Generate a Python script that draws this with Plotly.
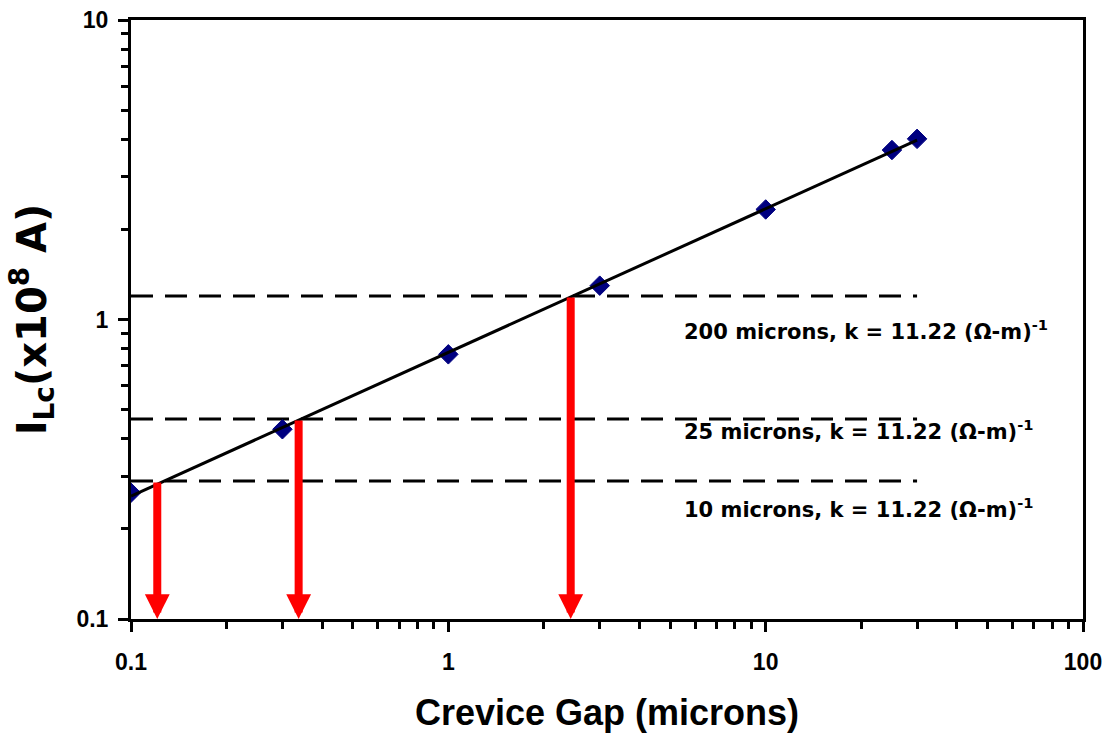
import numpy as np
import plotly.graph_objects as go

# Measured limiting current vs crevice gap
crevice_gap = [0.1, 0.3, 1, 3, 10, 25, 30]          # microns
i_lc = [0.264, 0.43, 0.765, 1.297, 2.33, 3.68, 4.01]  # x10^8 A

level_values = [1.197, 0.465, 0.289]
arrow_gaps = [2.43, 0.3375, 0.121]
level_labels = [
    "200 microns, k = 11.22 (Ω-m)<sup>-1</sup>",
    "25 microns, k = 11.22 (Ω-m)<sup>-1</sup>",
    "10 microns, k = 11.22 (Ω-m)<sup>-1</sup>",
]
label_x = [5.45, 5.45, 5.45]
label_y = [0.92, 0.428, 0.235]

x_ticks = [0.1, 1, 10, 100]
x_tick_text = ["0.1", "1", "10", "100"]
y_ticks = [0.1, 1, 10]
y_tick_text = ["0.1", "1", "10"]

x_minor = [d * 10.0 ** e for e in (-1, 0, 1) for d in range(2, 10)]
y_minor = [d * 10.0 ** e for e in (-1, 0) for d in range(2, 10)]

# Power-law trend line fitted in log-log space
b, log_a = np.polyfit(np.log10(crevice_gap), np.log10(i_lc), 1)
fit_x = np.array([min(crevice_gap), max(crevice_gap)])
fit_y = 10 ** log_a * fit_x ** b

fig = go.Figure()

for lv in level_values:
    fig.add_trace(go.Scatter(
        x=[min(crevice_gap), max(crevice_gap)], y=[lv, lv], mode="lines",
        line=dict(color="black", width=3, dash="22px,12px"), hoverinfo="skip"))

fig.add_trace(go.Scatter(
    x=crevice_gap, y=i_lc, mode="markers",
    marker=dict(symbol="diamond", size=15, color="#000080",
                line=dict(color="#000080", width=1))))

fig.add_trace(go.Scatter(
    x=fit_x, y=fit_y, mode="lines", line=dict(color="black", width=3)))

annotations = []
for gx, lv in zip(arrow_gaps, level_values):
    annotations.append(dict(
        x=np.log10(gx), y=np.log10(min(y_ticks)), xref="x", yref="y",
        ax=np.log10(gx), ay=np.log10(lv), axref="x", ayref="y",
        text="", showarrow=True, arrowhead=2, arrowsize=0.62,
        arrowwidth=8, arrowcolor="#FF0000", standoff=0, startstandoff=0))

for lx, ly, txt in zip(label_x, label_y, level_labels):
    annotations.append(dict(
        x=np.log10(lx), y=np.log10(ly), xref="x", yref="y", text=txt,
        showarrow=False, xanchor="left", yanchor="middle",
        font=dict(family="DejaVu Sans", size=21, color="black", weight="bold")))

fig.update_layout(
    template="none",
    width=1110, height=738,
    margin=dict(l=131, r=27, t=20, b=119),
    plot_bgcolor="white", paper_bgcolor="white",
    font=dict(family="Liberation Sans", size=23, color="black", weight="bold"),
    showlegend=False,
    annotations=annotations,
)

tick_font = dict(family="Liberation Sans", size=23, color="black", weight="bold")

fig.update_xaxes(
    type="log", range=[-1, 2], showgrid=False, zeroline=False, automargin=False,
    showline=True, linecolor="black", linewidth=3, mirror=True,
    ticks="outside", ticklen=10, tickwidth=3, tickcolor="black",
    tickmode="array", tickvals=x_ticks, ticktext=x_tick_text,
    tickfont=tick_font, ticklabelstandoff=10,
    minor=dict(ticks="outside", ticklen=7, tickwidth=3, tickcolor="black",
               tickmode="array", tickvals=x_minor, showgrid=False),
    title=dict(text="Crevice Gap (microns)",
               font=dict(family="Liberation Sans", size=36, color="black", weight="bold"),
               standoff=27),
)

fig.update_yaxes(
    type="log", range=[-1, 1], showgrid=False, zeroline=False, automargin=False,
    showline=True, linecolor="black", linewidth=3, mirror=True,
    ticks="outside", ticklen=10, tickwidth=3, tickcolor="black",
    tickmode="array", tickvals=y_ticks, ticktext=y_tick_text,
    tickfont=tick_font, ticklabelstandoff=5,
    minor=dict(ticks="outside", ticklen=7, tickwidth=3, tickcolor="black",
               tickmode="array", tickvals=y_minor, showgrid=False),
    title=dict(text="I<sub>Lc</sub>(x10<sup>8</sup> A)",
               font=dict(family="DejaVu Sans", size=40, color="black", weight="bold"),
               standoff=18),
)

fig.write_html("out.html")
